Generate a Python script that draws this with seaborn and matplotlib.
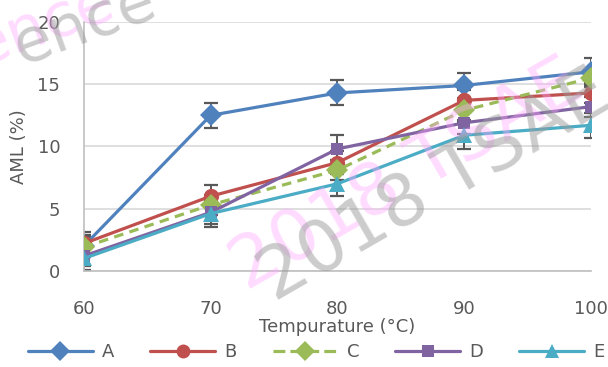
import numpy as np
import pandas as pd
import seaborn as sns
import matplotlib.pyplot as plt
from matplotlib.lines import Line2D

# Dados
temps = [60, 70, 80, 90, 100]
series_names = ['A', 'B', 'C', 'D', 'E']
aml_a = [2.0, 12.5, 14.3, 14.9, 16.0]
aml_b = [2.2, 6.0, 8.7, 13.7, 14.3]
aml_c = [1.9, 5.3, 8.1, 12.9, 15.5]
aml_d = [1.2, 4.7, 9.8, 11.9, 13.2]
aml_e = [1.0, 4.6, 7.0, 10.9, 11.7]
err_a = [0.9, 1.0, 1.0, 1.0, 1.1]
err_b = [0.9, 0.9, 0.9, 0.8, 0.8]
err_c = [0.8, 0.8, 0.8, 0.8, 0.7]
err_d = [0.8, 0.9, 1.1, 0.9, 0.8]
err_e = [0.9, 1.1, 1.0, 1.1, 1.0]

values = [aml_a, aml_b, aml_c, aml_d, aml_e]
errors = [err_a, err_b, err_c, err_d, err_e]

df = pd.DataFrame({
    'temp': temps * 5,
    'aml': sum(values, []),
    'err': sum(errors, []),
    'serie': [s for s in series_names for _ in temps],
})

cores = {'A': '#4F81BD', 'B': '#C0504D', 'C': '#9BBB59', 'D': '#8064A2', 'E': '#4BACC6'}
marcadores = {'A': 'D', 'B': 'o', 'C': 'D', 'D': 's', 'E': '^'}
tamanhos = {'A': 11, 'B': 11, 'C': 11, 'D': 9, 'E': 11}
tracos = {'A': '', 'B': '', 'C': (3, 2), 'D': '', 'E': ''}

sns.set_style('white')
plt.rcParams['font.family'] = ['DejaVu Sans']
cinza = '#595959'

fig = plt.figure(figsize=(6.08, 3.67), dpi=100)
ax = fig.add_axes([0.138, 0.262, 0.834, 0.678])

# barras de erro primeiro (ficam atras das linhas)
for s in series_names:
    d = df[df['serie'] == s]
    ax.errorbar(d['temp'], d['aml'], yerr=d['err'], fmt='none', ecolor=cinza,
                elinewidth=1.4, capsize=5, capthick=1.6, zorder=1)

n_antes = len(ax.lines)
sns.lineplot(data=df, x='temp', y='aml', hue='serie', style='serie',
             palette=cores, dashes=tracos, markers=marcadores, linewidth=2.3,
             markeredgewidth=0, legend=False, ax=ax, zorder=3)

# ajusta tamanho dos marcadores
for linha, s in zip(ax.lines[n_antes:], series_names):
    linha.set_markersize(tamanhos[s])
    linha.set_zorder(3)

ax.set_xlim(60, 100)
ax.set_ylim(0, 20)
ax.set_xticks(temps)
ax.set_yticks([0, 5, 10, 15, 20])
ax.yaxis.grid(True, color='#D9D9D9', linewidth=1.2)
ax.set_axisbelow(True)
for lado in ['top', 'right']:
    ax.spines[lado].set_visible(False)
for lado in ['left', 'bottom']:
    ax.spines[lado].set_color('#BFBFBF')
    ax.spines[lado].set_linewidth(1.2)
ax.tick_params(axis='both', length=0, labelsize=13, labelcolor=cinza)
ax.tick_params(axis='x', pad=21)
ax.tick_params(axis='y', pad=17)
ax.set_xlabel('Tempurature (°C)', fontsize=13, color=cinza)
ax.set_ylabel('AML (%)', fontsize=13, color=cinza)
ax.xaxis.set_label_coords(0.50, -0.19)
ax.yaxis.set_label_coords(-0.11, 0.5)

# legenda embaixo
handles = [Line2D([], [], color=cores[s], marker=marcadores[s], markersize=tamanhos[s] - 1,
                  linewidth=2.3, linestyle='--' if s == 'C' else '-', markeredgewidth=0)
           for s in series_names]
fig.legend(handles, series_names, loc='center', bbox_to_anchor=(0.52, 0.04), ncol=5,
           frameon=False, fontsize=13, handlelength=3.6, columnspacing=2.0,
           handletextpad=0.5, labelcolor=cinza)

# marca d'agua
fig.text(0.67, 0.52, '2018 TSAE', fontsize=52, color='#FFA8FF', alpha=0.4,
         rotation=30, ha='center', va='center', zorder=10)
fig.text(0.715, 0.49, '2018 TSAE', fontsize=52, color='#9A9A9A', alpha=0.5,
         rotation=30, ha='center', va='center', zorder=10)
fig.text(0.07, 0.93, 'ence', fontsize=44, color='#FFA8FF', alpha=0.4,
         rotation=20, ha='center', va='center', zorder=10)
fig.text(0.14, 0.935, 'ence', fontsize=44, color='#9A9A9A', alpha=0.5,
         rotation=20, ha='center', va='center', zorder=10)

fig.savefig('out.png', dpi=100)
